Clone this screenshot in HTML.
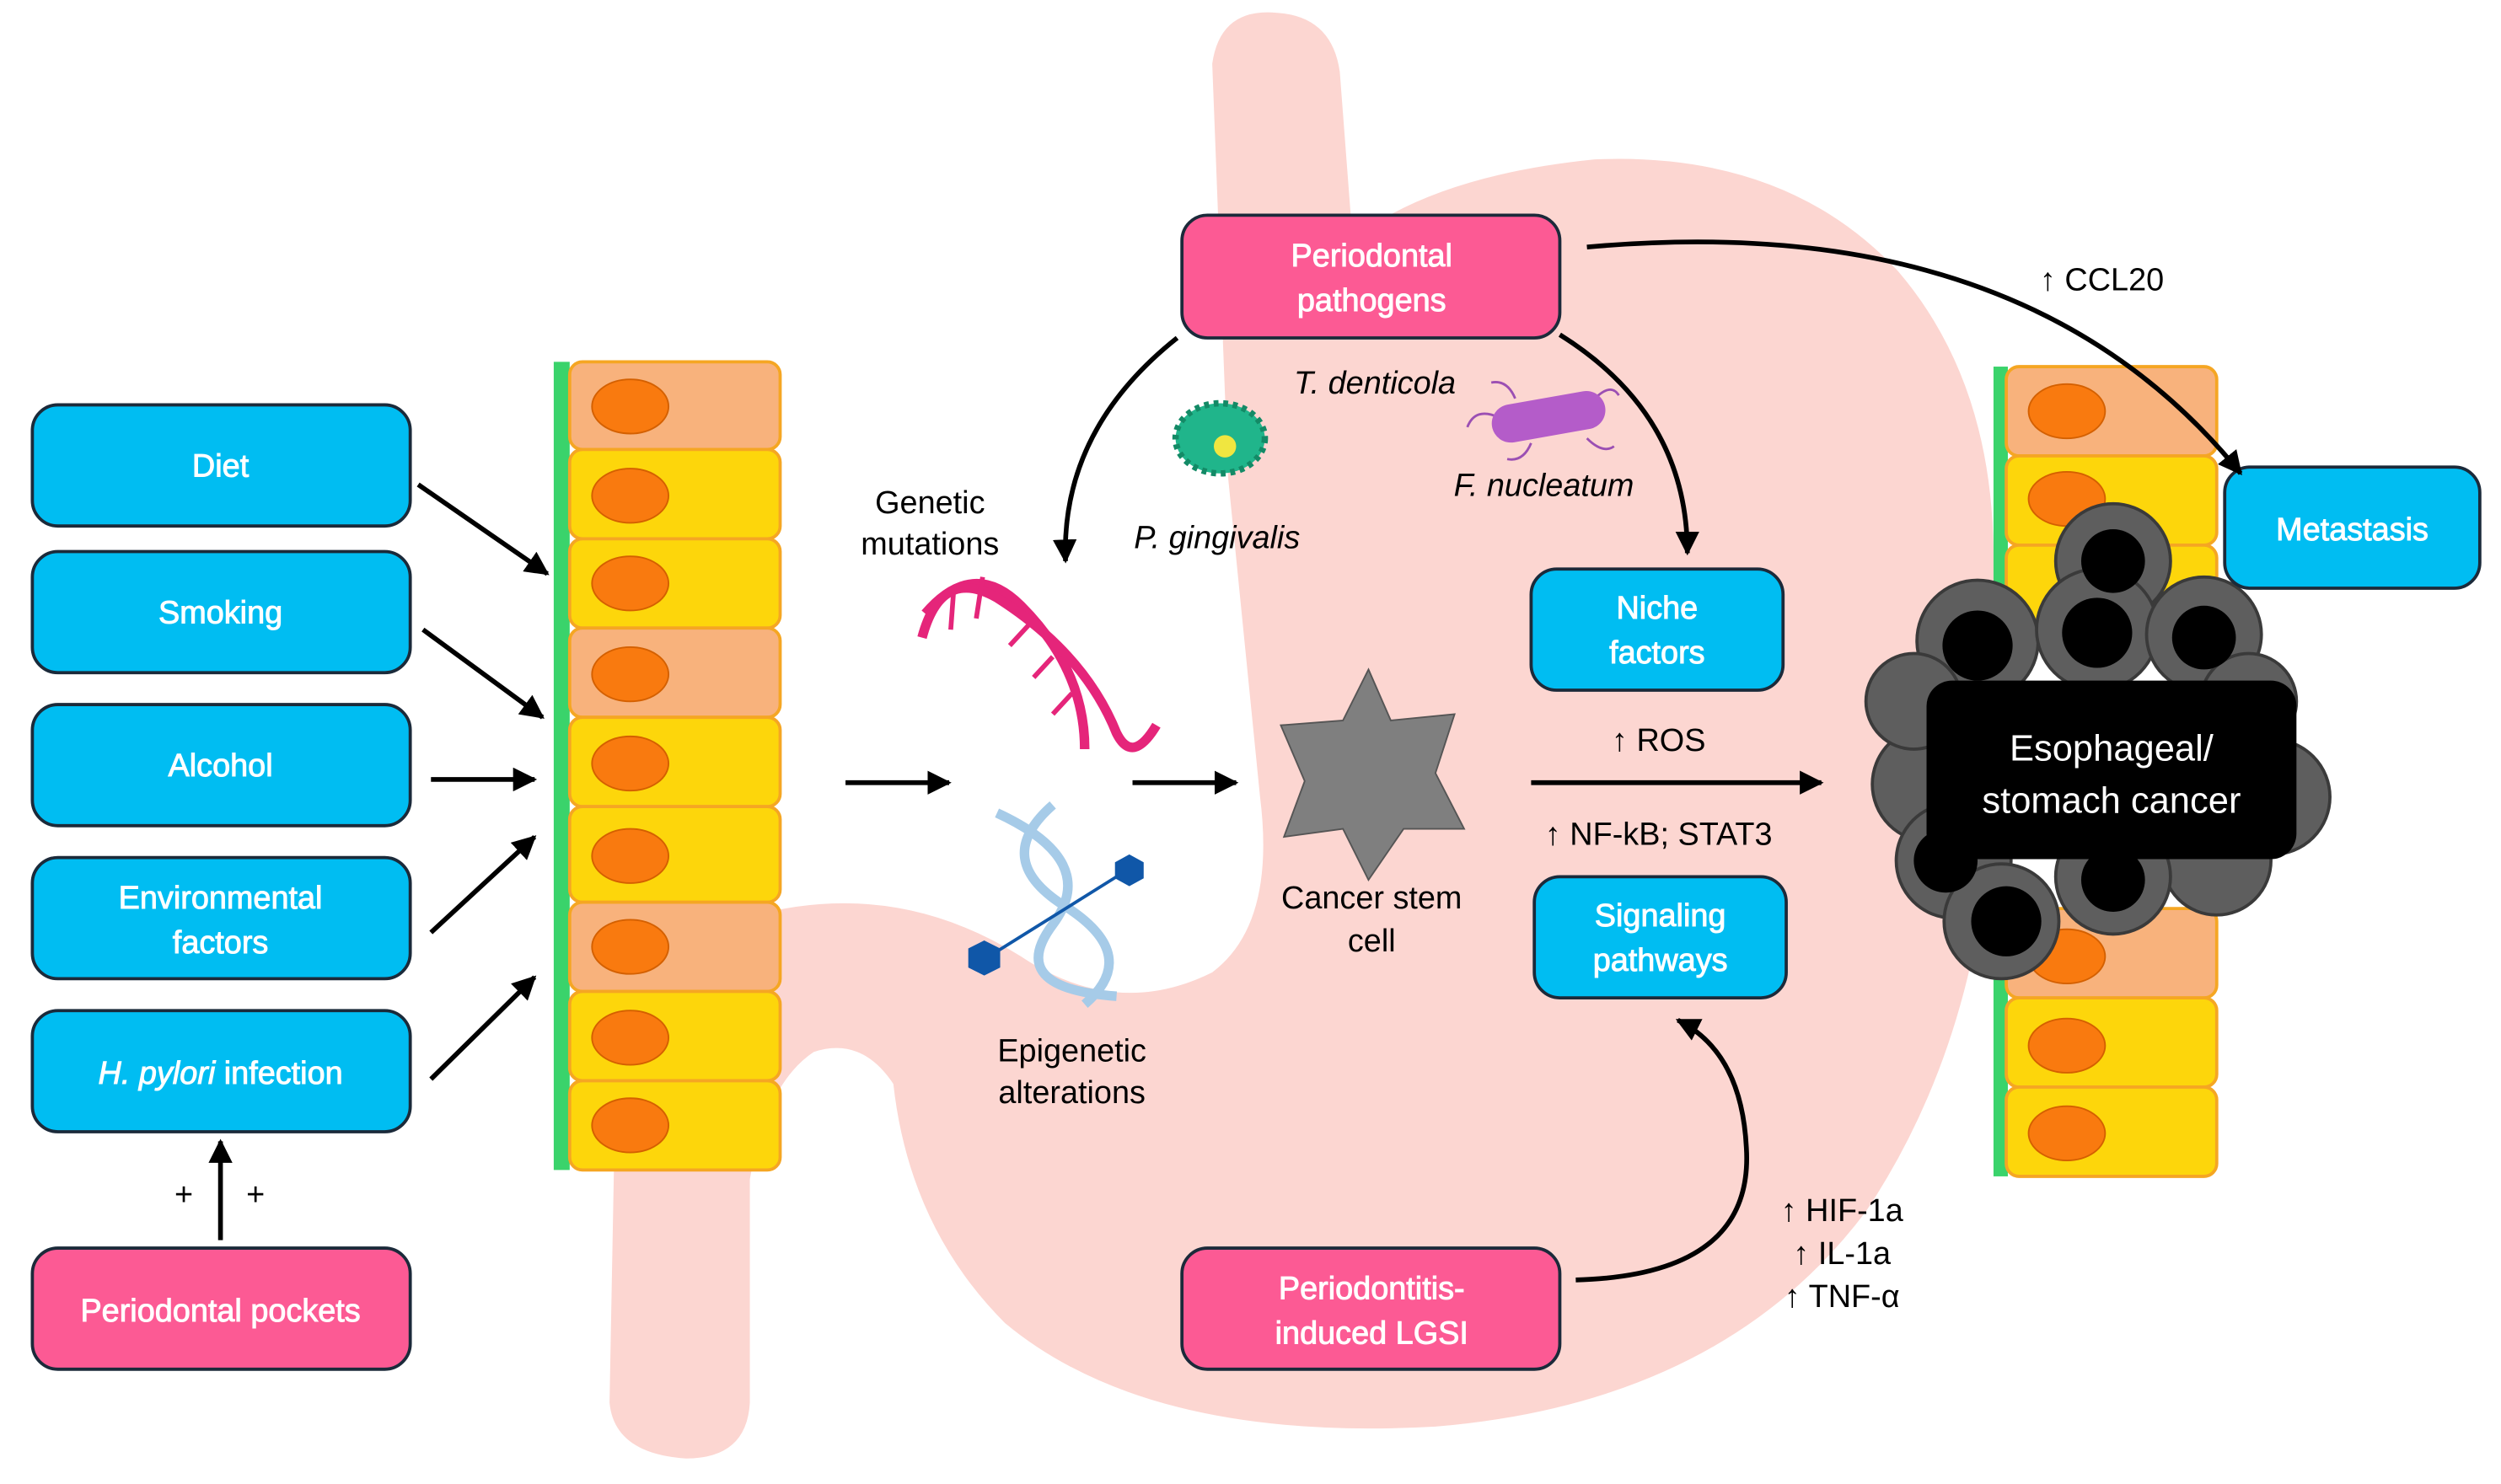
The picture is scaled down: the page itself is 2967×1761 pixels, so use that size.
<!DOCTYPE html>
<html><head><meta charset="utf-8"><style>
html,body{margin:0;padding:0;background:#fff}
svg{display:block}
text{font-family:"Liberation Sans",Arial,sans-serif}
</style></head><body>
<svg width="2967" height="1761" viewBox="0 0 1568 931" xmlns="http://www.w3.org/2000/svg">
<defs>
<marker id="ah" viewBox="0 0 10 10" refX="9" refY="5" markerWidth="5" markerHeight="5" orient="auto"><path d="M0,0 L10,5 L0,10 z" fill="#000"/></marker>
</defs>
<rect width="1568" height="931" fill="#fff"/>
<!-- stomach -->
<path fill="#fcd6d1" d="M760,40 Q765,5 800,8 Q835,10 840,45 L848,150 Q900,110 1000,100 Q1120,95 1190,170 Q1250,240 1250,350 L1250,470 Q1250,640 1170,760 Q1080,880 900,895 Q720,905 630,830 Q570,770 560,680 Q540,650 510,660 Q480,680 470,740 L470,880 Q468,915 430,915 Q385,912 382,880 L385,720 Q395,600 470,575 Q560,550 640,600 Q700,640 760,610 Q800,580 790,500 L770,300 Z"/>
<!-- left epithelium -->
<rect x="347" y="227" width="10" height="507" fill="#3ad36b"/>
<g stroke="#f5a623" stroke-width="2">
<rect x="357" y="227" width="132" height="55" rx="8" fill="#f8b27c"/>
<rect x="357" y="282" width="132" height="56" rx="8" fill="#fdd60b"/>
<rect x="357" y="338" width="132" height="56" rx="8" fill="#fdd60b"/>
<rect x="357" y="394" width="132" height="56" rx="8" fill="#f8b27c"/>
<rect x="357" y="450" width="132" height="56" rx="8" fill="#fdd60b"/>
<rect x="357" y="506" width="132" height="60" rx="8" fill="#fdd60b"/>
<rect x="357" y="566" width="132" height="56" rx="8" fill="#f8b27c"/>
<rect x="357" y="622" width="132" height="56" rx="8" fill="#fdd60b"/>
<rect x="357" y="678" width="132" height="56" rx="8" fill="#fdd60b"/>
</g>
<g fill="#f97a0f" stroke="#d46000" stroke-width="1">
<ellipse cx="395" cy="255" rx="24" ry="17"/><ellipse cx="395" cy="311" rx="24" ry="17"/><ellipse cx="395" cy="366" rx="24" ry="17"/><ellipse cx="395" cy="423" rx="24" ry="17"/><ellipse cx="395" cy="479" rx="24" ry="17"/><ellipse cx="395" cy="537" rx="24" ry="17"/><ellipse cx="395" cy="594" rx="24" ry="17"/><ellipse cx="395" cy="651" rx="24" ry="17"/><ellipse cx="395" cy="706" rx="24" ry="17"/>
</g>
<!-- right epithelium -->
<rect x="1250" y="230" width="9" height="508" fill="#3ad36b"/>
<g stroke="#f5a623" stroke-width="2">
<rect x="1258" y="230" width="132" height="56" rx="8" fill="#f8b27c"/>
<rect x="1258" y="286" width="132" height="56" rx="8" fill="#fdd60b"/>
<rect x="1258" y="342" width="132" height="56" rx="8" fill="#fdd60b"/>
<rect x="1258" y="570" width="132" height="56" rx="8" fill="#f8b27c"/>
<rect x="1258" y="626" width="132" height="56" rx="8" fill="#fdd60b"/>
<rect x="1258" y="682" width="132" height="56" rx="8" fill="#fdd60b"/>
</g>
<g fill="#f97a0f" stroke="#d46000" stroke-width="1">
<ellipse cx="1296" cy="258" rx="24" ry="17"/><ellipse cx="1296" cy="313" rx="24" ry="17"/><ellipse cx="1296" cy="600" rx="24" ry="17"/><ellipse cx="1296" cy="656" rx="24" ry="17"/><ellipse cx="1296" cy="711" rx="24" ry="17"/>
</g>
<!-- tumor -->
<g fill="#5e5e5e" stroke="#3a3a3a" stroke-width="2">
<circle cx="1325" cy="352" r="36"/><circle cx="1240" cy="402" r="38"/><circle cx="1315" cy="395" r="38"/><circle cx="1382" cy="398" r="36"/>
<circle cx="1210" cy="492" r="36"/><circle cx="1425" cy="500" r="36"/><circle cx="1225" cy="540" r="36"/><circle cx="1390" cy="540" r="34"/><circle cx="1325" cy="550" r="36"/><circle cx="1255" cy="578" r="36"/>
<circle cx="1200" cy="440" r="30"/><circle cx="1410" cy="440" r="30"/>
</g>
<g fill="#000"><circle cx="1325" cy="352" r="20"/><circle cx="1240" cy="405" r="22"/><circle cx="1315" cy="397" r="22"/><circle cx="1382" cy="400" r="20"/><circle cx="1258" cy="578" r="22"/><circle cx="1325" cy="552" r="20"/><circle cx="1220" cy="540" r="20"/></g>
<rect x="1208" y="427" width="232" height="112" rx="16" fill="#000"/>
<text x="1324" y="477" font-size="23" fill="#fff" text-anchor="middle">Esophageal/</text>
<text x="1324" y="510" font-size="23" fill="#fff" text-anchor="middle">stomach cancer</text>
<!-- boxes -->
<g stroke="#1b2a3a" stroke-width="2" fill="#00bdf2">
<rect x="20" y="254" width="237" height="76" rx="16"/>
<rect x="20" y="346" width="237" height="76" rx="16"/>
<rect x="20" y="442" width="237" height="76" rx="16"/>
<rect x="20" y="538" width="237" height="76" rx="16"/>
<rect x="20" y="634" width="237" height="76" rx="16"/>
<rect x="960" y="357" width="158" height="76" rx="16"/>
<rect x="962" y="550" width="158" height="76" rx="16"/>
<rect x="1395" y="293" width="160" height="76" rx="16"/>
</g>
<g stroke="#1b2a3a" stroke-width="2" fill="#fc5a94">
<rect x="20" y="783" width="237" height="76" rx="16"/>
<rect x="741" y="135" width="237" height="77" rx="16"/>
<rect x="741" y="783" width="237" height="76" rx="16"/>
</g>
<g fill="#fff" font-size="20" text-anchor="middle" stroke="#fff" stroke-width="0.5">
<text x="138" y="299">Diet</text>
<text x="138" y="391">Smoking</text>
<text x="138" y="487">Alcohol</text>
<text x="138" y="570">Environmental</text>
<text x="138" y="598">factors</text>
<text x="138" y="680"><tspan font-style="italic">H. pylori</tspan> infection</text>
<text x="138" y="829">Periodontal pockets</text>
<text x="860" y="167">Periodontal</text>
<text x="860" y="195">pathogens</text>
<text x="860" y="815">Periodontitis-</text>
<text x="860" y="843">induced LGSI</text>
<text x="1039" y="388">Niche</text>
<text x="1039" y="416">factors</text>
<text x="1041" y="581">Signaling</text>
<text x="1041" y="609">pathways</text>
<text x="1475" y="339">Metastasis</text>
</g>
<!-- arrows -->
<g stroke="#000" stroke-width="3" fill="none" marker-end="url(#ah)">
<line x1="262" y1="304" x2="343" y2="360"/>
<line x1="265" y1="395" x2="340" y2="450"/>
<line x1="270" y1="489" x2="335" y2="489"/>
<line x1="270" y1="585" x2="335" y2="525"/>
<line x1="270" y1="677" x2="335" y2="613"/>
<line x1="138" y1="778" x2="138" y2="716"/>
<line x1="530" y1="491" x2="595" y2="491"/>
<line x1="710" y1="491" x2="775" y2="491"/>
<line x1="960" y1="491" x2="1142" y2="491"/>
<path d="M738,212 Q665,270 668,352"/>
<path d="M978,210 Q1058,260 1058,347"/>
<path d="M995,155 Q1270,130 1405,297"/>
<path d="M988,803 Q1100,800 1095,720 Q1092,660 1052,640"/>
</g>
<g font-size="20" fill="#000">
<text x="115" y="756" text-anchor="middle">+</text>
<text x="160" y="756" text-anchor="middle">+</text>
<text x="583" y="322" text-anchor="middle">Genetic</text>
<text x="583" y="348" text-anchor="middle">mutations</text>
<text x="672" y="666" text-anchor="middle">Epigenetic</text>
<text x="672" y="692" text-anchor="middle">alterations</text>
<text x="860" y="570" text-anchor="middle">Cancer stem</text>
<text x="860" y="597" text-anchor="middle">cell</text>
<text x="862" y="247" text-anchor="middle" font-style="italic">T. denticola</text>
<text x="968" y="311" text-anchor="middle" font-style="italic">F. nucleatum</text>
<text x="763" y="344" text-anchor="middle" font-style="italic">P. gingivalis</text>
<text x="1040" y="471" text-anchor="middle">↑ ROS</text>
<text x="1040" y="530" text-anchor="middle">↑ NF-kB; STAT3</text>
<text x="1318" y="182" text-anchor="middle">↑ CCL20</text>
<text x="1155" y="766" text-anchor="middle">↑ HIF-1a</text>
<text x="1155" y="793" text-anchor="middle">↑ IL-1a</text>
<text x="1155" y="820" text-anchor="middle">↑ TNF-α</text>
</g>
<!-- star cell -->
<path d="M858,420 L872,452 L912,448 L900,485 L918,520 L880,520 L858,552 L842,520 L805,525 L818,490 L803,455 L842,452 Z" fill="#7f7f7f" stroke="#555" stroke-width="1"/>
<!-- DNA red -->
<g stroke="#e5257a" stroke-width="6" fill="none">
<path d="M580,385 Q610,350 640,380 Q680,420 680,470"/>
<path d="M578,400 Q590,355 625,375 Q680,410 700,460 Q710,480 725,455"/>
</g>
<g stroke="#e5257a" stroke-width="3"><line x1="598" y1="368" x2="596" y2="395"/><line x1="616" y1="362" x2="612" y2="388"/><line x1="645" y1="392" x2="633" y2="405"/><line x1="660" y1="412" x2="648" y2="425"/><line x1="672" y1="435" x2="660" y2="448"/></g>
<!-- DNA blue -->
<g stroke="#a6cbe8" stroke-width="6" fill="none">
<path d="M625,510 Q690,540 660,580 Q630,620 700,625"/>
<path d="M660,505 Q620,540 670,570 Q715,600 680,630"/>
</g>
<line x1="620" y1="600" x2="700" y2="550" stroke="#1057a8" stroke-width="2"/>
<polygon points="708,536 717,541 717,551 708,556 699,551 699,541" fill="#1057a8"/>
<polygon points="617,590 627,595 627,607 617,612 607,607 607,595" fill="#1057a8"/>
<!-- bacteria -->
<ellipse cx="765" cy="275" rx="28" ry="22" fill="#20b58b" stroke="#138a66" stroke-width="4" stroke-dasharray="3 3"/>
<circle cx="768" cy="280" r="7" fill="#f0e640"/>
<g stroke="#9b4fb3" stroke-width="1.5" fill="none"><path d="M940,262 Q925,255 920,268"/><path d="M950,250 Q945,238 935,240"/><path d="M1000,250 Q1010,240 1015,248"/><path d="M995,275 Q1005,285 1012,280"/><path d="M960,278 Q955,290 945,288"/></g>
<g transform="rotate(-10 968 262)"><rect x="935" y="250" width="72" height="24" rx="12" fill="#b45cc9"/></g>
</svg>
</body></html>
